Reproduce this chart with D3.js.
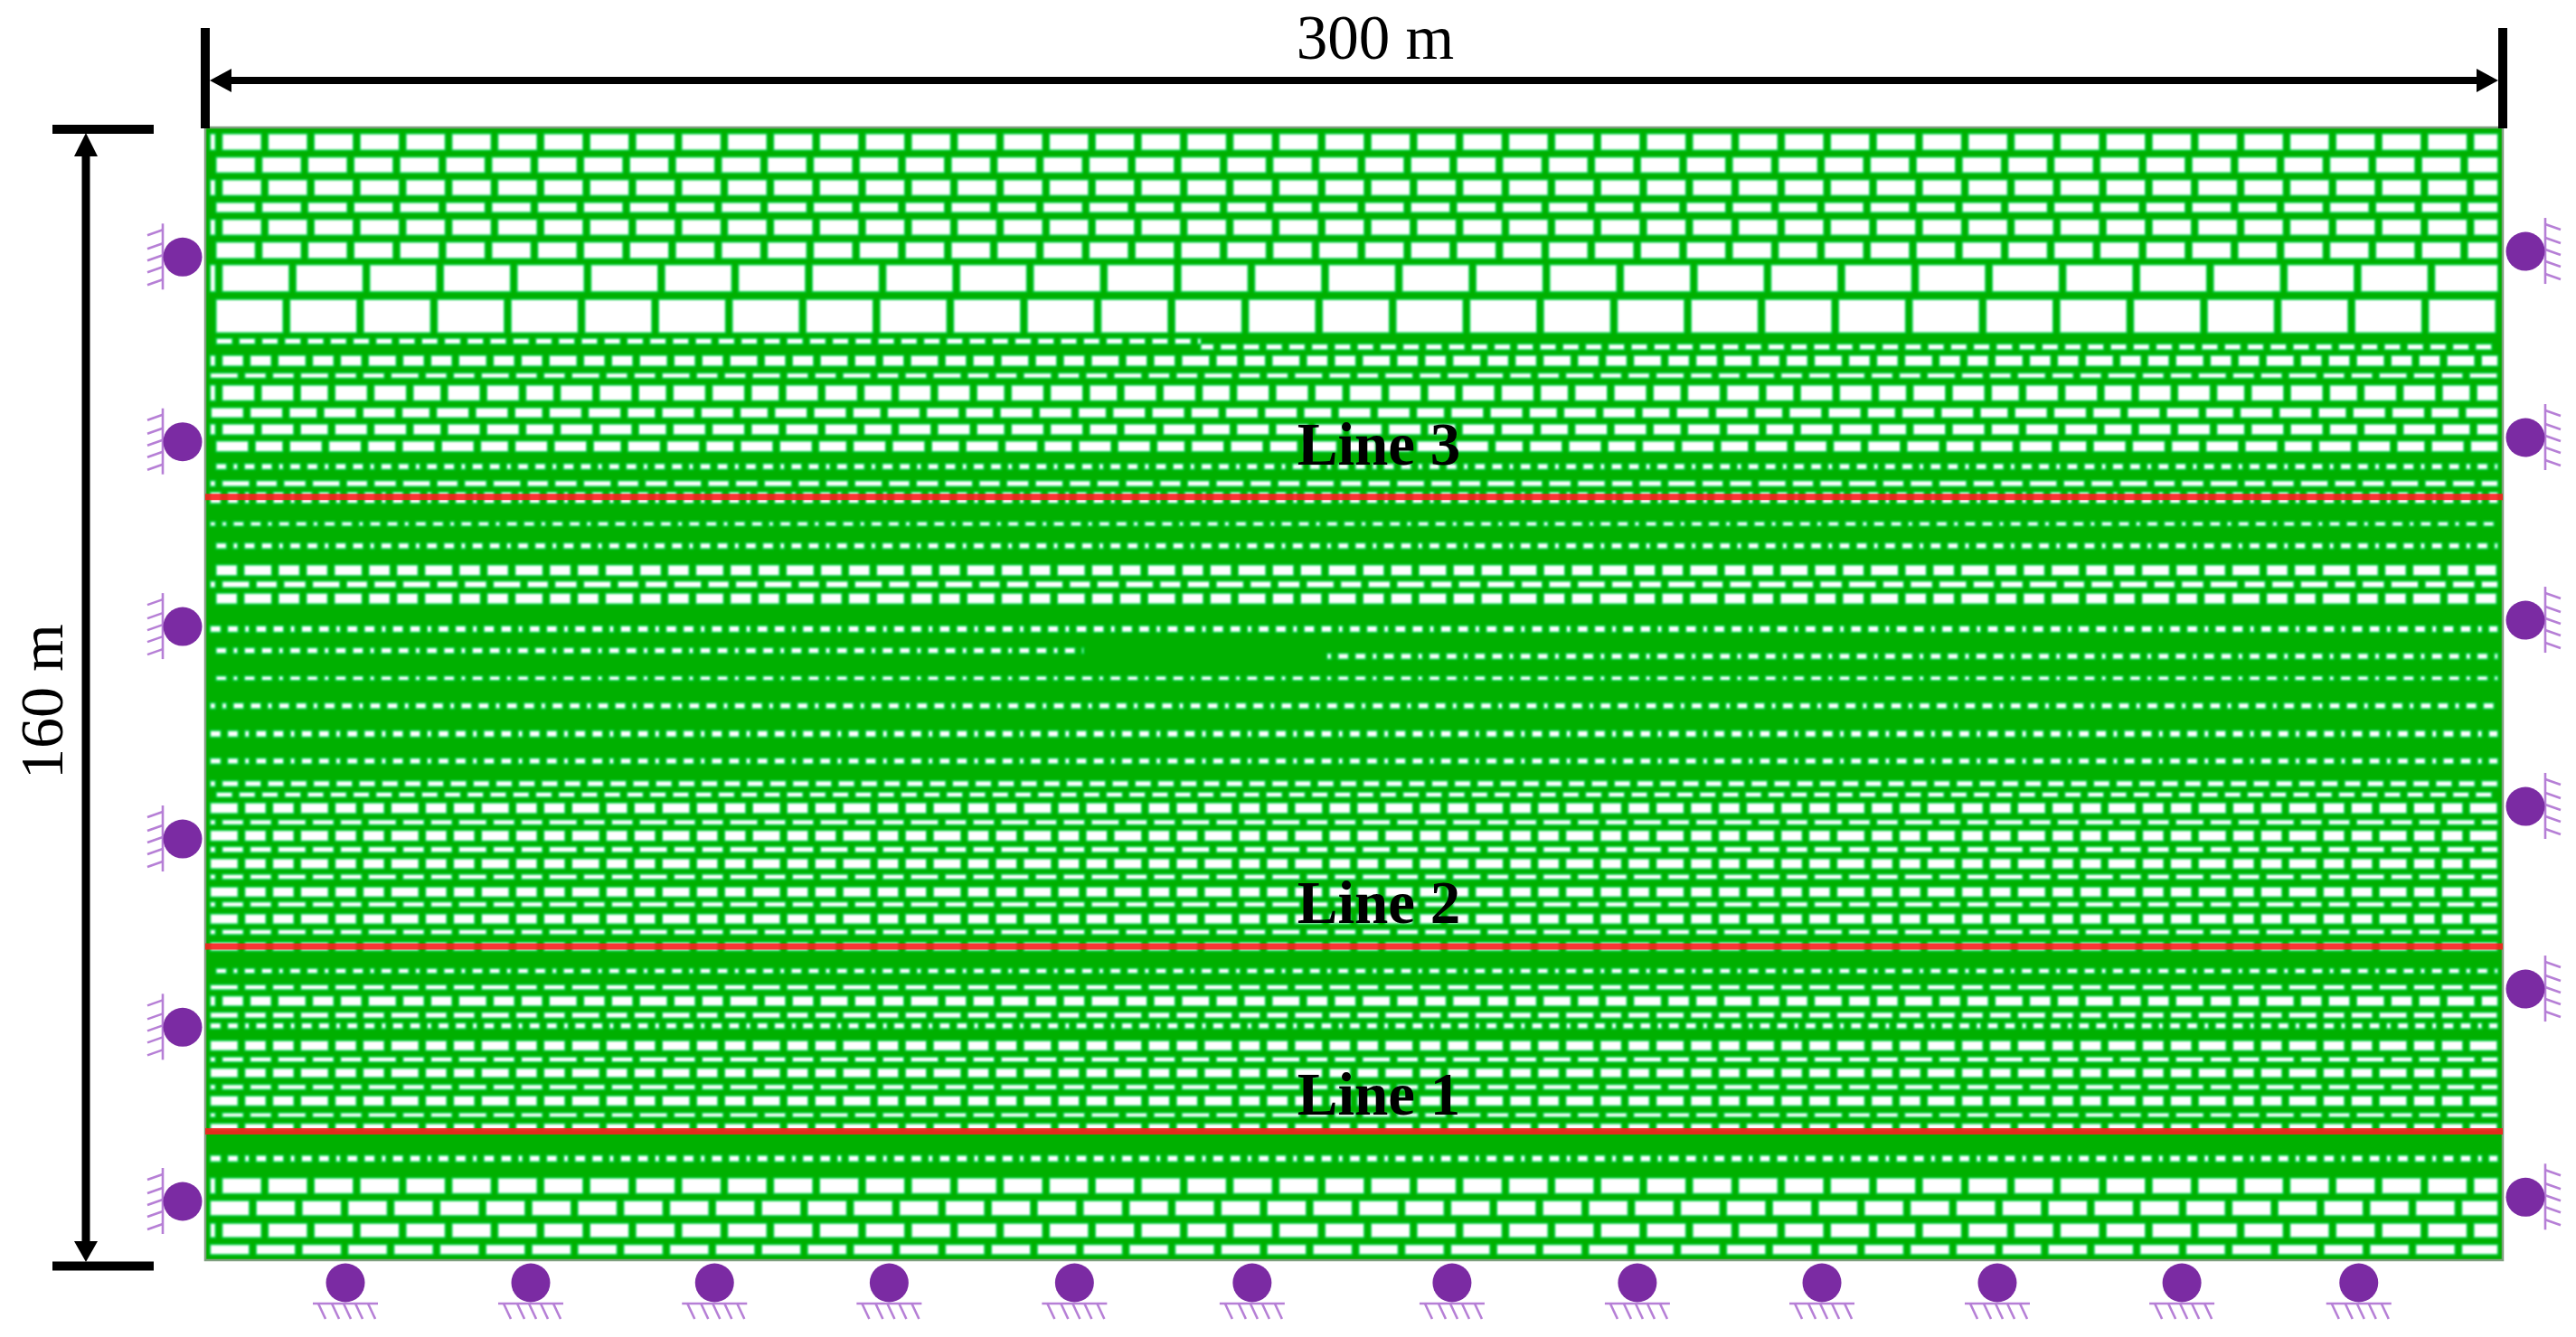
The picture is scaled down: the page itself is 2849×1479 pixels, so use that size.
<!DOCTYPE html>
<html>
<head>
<meta charset="utf-8">
<script src="https://d3js.org/d3.v7.min.js"></script>
<style>
  body { margin: 0; background: #fff; }
  text { font-family: "Liberation Serif", serif; fill: #000; }
</style>
</head>
<body>
<script>
// model size in metres
var modelWidth = 300
var modelHeight = 160

// joint layout of each block type: first joint, then the block lengths that repeat (m)
var blockTypes = {
    brickA: [1.77, 6], brickB: [0.97, 6], brickC: [0.2, 6],
    coarseA: [1.77, 9.63], coarseB: [0.97, 9.63],
    fineA: [1.0, 2.98], fineB: [1.77, 2.98],
    mixA: [1.77, 3.65, 3.65, 4.5], mixB: [0.22, 4.5, 3.65, 3.65],
    mixC: [1.77, 4.45, 3.6, 3.75], mixD: [0.97, 3.65, 4.5, 3.65],
    wideA: [1.77, 5.11, 5.11, 4.5], wideB: [0.32, 5.11, 5.11, 4.5], wideC: [0.97, 5.11, 4.5, 5.11],
    dotA: [0.97, 2.25, 1.45, 2.25], dotB: [2.48, 2.25, 1.45, 2.25], dotC: [1.77, 1.45, 2.25, 2.25]
}

// layers of the mesh, top to bottom: elevations in m and block type
var rowTop = [159.1, 155.8, 152.6, 149.4, 147.0, 143.8, 140.6, 135.7, 130.2, 127.8, 125.3, 123.6, 120.4, 118.1, 115.7,
    112.5, 110.1, 108.5, 104.3, 101.3, 98.2, 95.9, 94.2, 89.6, 86.5, 82.5, 78.7, 74.8, 70.9, 67.7,
    66.1, 64.6, 62.2, 60.7, 58.4, 56.7, 54.5, 52.7, 50.6, 48.9, 46.7, 44.9, 41.2, 38.9, 37.3,
    35.0, 33.5, 31.0, 28.7, 27.1, 24.8, 23.2, 20.8, 19.3, 14.8, 11.6, 8.4, 5.2, 2.2,
    129.4, 85.7]
var rowBottom = [156.8, 153.6, 150.4, 148.0, 144.8, 141.5, 136.8, 131.0, 129.4, 126.3, 124.6, 121.4, 119.0, 116.6, 114.2,
    111.7, 109.3, 106.9, 103.7, 100.5, 96.7, 95.0, 92.7, 88.7, 85.7, 81.9, 77.9, 73.9, 70.1, 66.9,
    65.4, 63.1, 61.5, 59.2, 57.6, 55.3, 53.8, 51.3, 49.9, 47.5, 46.0, 43.7, 40.5, 38.2, 35.9,
    34.2, 32.7, 29.6, 28.0, 25.8, 24.1, 21.8, 20.2, 18.4, 13.9, 9.4, 6.3, 3.2, 0.8,
    128.6, 84.9]
var rowType = ["brickA", "brickB", "brickA", "brickB", "brickA", "brickB", "coarseA", "coarseB", "fineA", "mixA", "mixB", "wideA", "wideB", "wideA", "wideC",
    "dotA", "mixC", "dotB", "dotC", "dotA", "mixD", "mixC", "mixD", "dotB", "dotA", "dotA", "dotC", "dotB", "dotB", "fineB",
    "fineA", "mixB", "mixA", "mixB", "mixA", "mixB", "mixA", "mixB", "mixA", "mixB", "mixA", "mixB", "dotA", "mixB", "mixA",
    "mixB", "dotB", "mixB", "mixA", "mixB", "mixA", "mixB", "mixA", "mixB", "dotB", "brickA", "brickC", "brickA", "brickC",
    "fineA", "dotA"]
// layers that only run over part of the width (index: [from, to] in m)
var rowExtent = { 8: [0, 130], 24: [0, 114.7], 59: [130, 300], 60: [146.5, 300] }

var jointGap = 0.9
var edgeGap = 0.65

// measuring lines
var lineNames = ["Line 1", "Line 2", "Line 3"]
var lineElevation = [18.2, 44.3, 107.8]
var lineLabelElevation = [20.6, 47.6, 112.4]

// hinge supports
var leftSupports = [141.7, 115.6, 89.5, 59.5, 32.9, 8.3]
var rightSupports = [142.5, 116.2, 90.4, 64.1, 38.3, 8.9]
var bottomSupports = [18.3, 42.5, 66.5, 89.3, 113.5, 136.7, 162.8, 187, 211.1, 234, 258.1, 281.2]
var hatchOffsets = [-30, -15, -2, 11, 25]

var widthLabel = "300 m"
var heightLabel = "160 m"

var green = "#00b000"
var halo = "#00cc3c"
var purple = "#7b2ba3"
var lilac = "#b67fd6"

var x = d3.scaleLinear().domain([0, modelWidth]).range([227, 2768])
var y = d3.scaleLinear().domain([0, modelHeight]).range([1394, 141])

var canvas = d3.select("body").append("svg")
    .attr("width", 2849)
    .attr("height", 1479)
    .style("display", "block")

var defs = canvas.append("defs")
defs.append("filter").attr("id", "soft")
    .attr("x", "-2%").attr("y", "-2%").attr("width", "104%").attr("height", "104%")
    .append("feGaussianBlur").attr("stdDeviation", 0.9)

// model body
canvas.append("rect")
    .attr("x", x(0)).attr("y", y(modelHeight))
    .attr("width", x(modelWidth) - x(0)).attr("height", y(0) - y(modelHeight))
    .attr("fill", green)
    .attr("stroke", "#7f9f7f")
    .attr("stroke-width", 2.5)

// blocks
var blocks = []
for (var i = 0; i < rowTop.length; i++) {
    var type = blockTypes[rowType[i]]
    var extent = rowExtent[i] || [0, modelWidth]
    var prev = 0
    var joint = type[0]
    var k = 0
    while (prev < modelWidth) {
        var from = Math.max(prev + jointGap / 2, edgeGap, extent[0])
        var to = Math.min(joint - jointGap / 2, modelWidth - edgeGap, extent[1])
        if (to > from) {
            blocks.push({ from: from, to: to, top: rowTop[i], bottom: rowBottom[i] })
        }
        prev = joint
        joint = joint + type[1 + k % (type.length - 1)]
        k++
    }
}

// lighter green rim first, the white block on top, both a little soft like the scan
function drawBlocks(fill, pad) {
    canvas.append("g")
        .attr("filter", "url(#soft)")
        .selectAll("rect")
        .data(blocks)
        .join("rect")
        .attr("x", function (d) { return x(d.from) - pad })
        .attr("y", function (d) { return y(d.top) - pad })
        .attr("width", function (d) { return x(d.to) - x(d.from) + 2 * pad })
        .attr("height", function (d) { return Math.max(y(d.bottom) - y(d.top) + 2 * pad, 1) })
        .attr("fill", fill)
}
drawBlocks(halo, 1)
drawBlocks("#fff", -0.6)

// measuring lines and their names
canvas.selectAll(".redLine")
    .data(lineElevation)
    .join("line")
    .attr("class", "redLine")
    .attr("x1", x(0)).attr("x2", x(modelWidth))
    .attr("y1", function (d) { return y(d) })
    .attr("y2", function (d) { return y(d) })
    .attr("stroke", "#fb1f1f")
    .attr("stroke-opacity", 0.9)
    .attr("stroke-width", 7)

canvas.selectAll(".lineName")
    .data(lineNames)
    .join("text")
    .attr("class", "lineName")
    .attr("x", 1525)
    .attr("y", function (d, i) { return y(lineLabelElevation[i]) })
    .attr("text-anchor", "middle")
    .attr("font-weight", "bold")
    .attr("font-size", 67)
    .text(function (d) { return d })

// supports
function drawHatch(g, horizontal, sign) {
    var ink = g.append("g").attr("stroke", lilac).attr("stroke-width", 2.6).attr("fill", "none")
    if (horizontal) {
        ink.append("line").attr("x1", -36).attr("x2", 36).attr("y1", 23).attr("y2", 23)
    } else {
        ink.append("line").attr("x1", sign * 22).attr("x2", sign * 22).attr("y1", -37).attr("y2", 36)
    }
    hatchOffsets.forEach(function (o) {
        if (horizontal) {
            ink.append("line").attr("x1", o).attr("y1", 23).attr("x2", o + 8).attr("y2", 40)
        } else {
            ink.append("line").attr("x1", sign * 22).attr("y1", o).attr("x2", sign * 39).attr("y2", o + 6)
        }
    })
    g.append("circle").attr("r", 21.5).attr("fill", purple)
}

leftSupports.forEach(function (d) {
    drawHatch(canvas.append("g").attr("transform", "translate(" + (x(0) - 25) + "," + y(d) + ")"), false, -1)
})
rightSupports.forEach(function (d) {
    drawHatch(canvas.append("g").attr("transform", "translate(" + (x(modelWidth) + 25) + "," + y(d) + ")"), false, 1)
})
bottomSupports.forEach(function (d) {
    drawHatch(canvas.append("g").attr("transform", "translate(" + x(d) + "," + (y(0) + 25) + ")"), true, 1)
})

// dimension lines
var ticks = canvas.append("g").attr("stroke", "#000").attr("fill", "none")
ticks.append("line").attr("x1", x(0)).attr("x2", x(0)).attr("y1", 31).attr("y2", 142).attr("stroke-width", 10)
ticks.append("line").attr("x1", x(modelWidth)).attr("x2", x(modelWidth)).attr("y1", 31).attr("y2", 142).attr("stroke-width", 10)
ticks.append("line").attr("x1", x(0) + 20).attr("x2", x(modelWidth) - 20).attr("y1", 89).attr("y2", 89).attr("stroke-width", 8)
ticks.append("line").attr("x1", 58).attr("x2", 170).attr("y1", y(modelHeight) + 2).attr("y2", y(modelHeight) + 2).attr("stroke-width", 10)
ticks.append("line").attr("x1", 58).attr("x2", 170).attr("y1", y(0) + 6.5).attr("y2", y(0) + 6.5).attr("stroke-width", 10)
ticks.append("line").attr("x1", 95).attr("x2", 95).attr("y1", y(modelHeight) + 20).attr("y2", y(0) - 15).attr("stroke-width", 9)

var heads = [
    [[x(0) + 5, 89], [x(0) + 29, 76], [x(0) + 29, 102]],
    [[x(modelWidth) - 5, 89], [x(modelWidth) - 29, 76], [x(modelWidth) - 29, 102]],
    [[95, y(modelHeight) + 6], [82, y(modelHeight) + 32], [108, y(modelHeight) + 32]],
    [[95, y(0) + 2], [82, y(0) - 21], [108, y(0) - 21]]
]
canvas.selectAll(".head")
    .data(heads)
    .join("polygon")
    .attr("class", "head")
    .attr("points", function (d) { return d.join(" ") })
    .attr("fill", "#000")

canvas.append("text")
    .attr("x", 1521).attr("y", 65)
    .attr("text-anchor", "middle")
    .attr("font-size", 69)
    .text(widthLabel)

canvas.append("text")
    .attr("transform", "translate(69,776) rotate(-90)")
    .attr("text-anchor", "middle")
    .attr("font-size", 68)
    .text(heightLabel)
</script>
</body>
</html>
